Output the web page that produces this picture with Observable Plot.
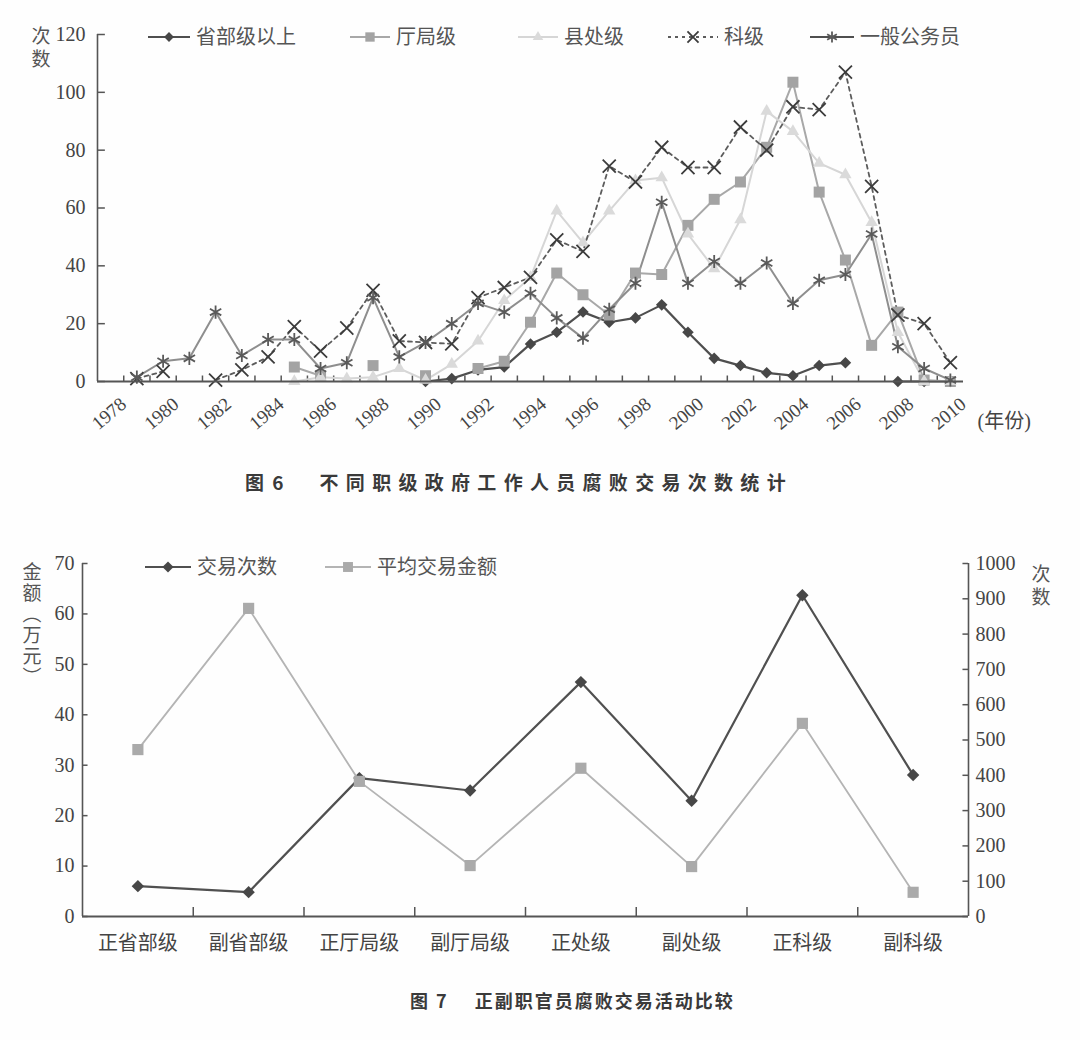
<!DOCTYPE html>
<html>
<head>
<meta charset="utf-8">
<script src="https://cdn.jsdelivr.net/npm/d3@7"></script>
<script src="https://cdn.jsdelivr.net/npm/@observablehq/plot@0.6"></script>
<style>
  body { margin: 0; background: #ffffff; }
  #page { position: relative; width: 1080px; height: 1040px; background: #fefefe; overflow: hidden;
          font-family: "Liberation Serif", "Noto Sans CJK SC", serif; color: #444; }
  #page svg { position: absolute; left: 0; overflow: visible; }
  .cap { position: absolute; white-space: nowrap; font-family: "Noto Sans CJK SC", sans-serif; font-weight: bold; color: #3a3a3a; }
</style>
</head>
<body>
<div id="page"></div>
<script>
// ---------- Figure 6 data ----------
const years = [1978,1979,1980,1981,1982,1983,1984,1985,1986,1987,1988,1989,1990,1991,1992,1993,1994,1995,1996,1997,1998,1999,2000,2001,2002,2003,2004,2005,2006,2007,2008,2009,2010];
const yearLabels = [1978,1980,1982,1984,1986,1988,1990,1992,1994,1996,1998,2000,2002,2004,2006,2008,2010];
const countTicks6 = [0,20,40,60,80,100,120];
const seriesNames6 = ["省部级以上","厅局级","县处级","科级","一般公务员"];
const provincial = [null,null,null,null,null,null,null,null,null,null,null,null,0,1,4,5,13,17,24,20.5,22,26.5,17,8,5.5,3,2,5.5,6.5,null,0,0,0];
const bureau     = [null,null,null,null,null,null,null,5,2,null,5.5,null,2,null,4.5,7,20.5,37.5,30,23,37.5,37,54,63,69,81,103.5,65.5,42,12.5,24,0.5,0];
const county     = [null,null,null,null,null,null,null,0,1.5,1,1.5,4.5,0.5,6,14,28,36,59,48,59,69.5,70.5,51,39,56,93.5,86.5,75.5,71.5,55,17,0,0];
const section    = [null,1,3.5,null,0.5,4,8.5,19,10.5,18.5,31.5,14,13.5,13,29,32.5,36,49,45,74.5,69,81,74,74,88,80,95,94,107,67.5,23,20,6.5];
const general    = [null,1.5,7,8,24,9,14.5,14.5,4.5,6.5,29,8.5,13.5,20,27,24,30.5,22,15,25,34,62,34,41.5,34,41,27,35,37,51,12,4.5,0.5];

// ---------- Figure 7 data ----------
const ranks = ["正省部级","副省部级","正厅局级","副厅局级","正处级","副处级","正科级","副科级"];
const dealCounts = [86, 69, 392, 357, 664, 328, 910, 401];
const avgAmounts = [33.1, 61.1, 26.8, 10.1, 29.4, 9.9, 38.3, 4.8];
const amountTicks = [0,10,20,30,40,50,60,70];
const countTicks7 = [0,100,200,300,400,500,600,700,800,900,1000];
const seriesNames7 = ["交易次数","平均交易金额"];

const page = document.getElementById("page");
const NUM = "Liberation Serif";
const CJK = "Noto Sans CJK SC";

// styling per series (figure 6)
const styles6 = [
  {values: provincial, line: "#4f4f4f", symbol: "diamond2", r: 5.2, fill: "#474747", stroke: "none", width: 2.2, dash: null, legendLine: "#4f4f4f"},
  {values: bureau,     line: "#a8a8a8", symbol: "square",   r: 6.2, fill: "#a3a3a3", stroke: "none", width: 2, dash: null, legendLine: "#a8a8a8"},
  {values: county,     line: "#d6d6d6", symbol: "triangle", r: 4.6, fill: "#dadada", stroke: "none", width: 2, dash: null, legendLine: "#d6d6d6"},
  {values: section,    line: "#5c5c5c", symbol: "times",    r: 6,   fill: "none", stroke: "#3c3c3c", width: 1.8, dash: "4,4", legendLine: "#5c5c5c"},
  {values: general,    line: "#8e8e8e", symbol: "asterisk", r: 6.2, fill: "none", stroke: "#5a5a5a", width: 2, dash: null, legendLine: "#4f4f4f"}
];

const rows6 = styles6.map((s, k) => years.map((yr, i) => ({series: seriesNames6[k], year: yr, value: s.values[i]})));
const boundaries6 = years.slice(1).map(y => y - 0.5);
const x0 = years[0] - 0.5, x1 = years[years.length - 1] + 0.5;

const seriesMarks6 = [];
styles6.forEach((s, k) => {
  seriesMarks6.push(Plot.line(rows6[k], {x: "year", y: "value", stroke: s.line, strokeWidth: s.width, strokeDasharray: s.dash}));
});
styles6.forEach((s, k) => {
  seriesMarks6.push(Plot.dot(rows6[k].filter(d => d.value != null), {x: "year", y: "value", symbol: s.symbol, r: s.r, fill: s.fill, stroke: s.stroke, strokeWidth: 1.8}));
});

const fig6 = Plot.plot({
  width: 1080, height: 445,
  marginLeft: 97, marginRight: 117, marginTop: 34, marginBottom: 64,
  x: {domain: [x0, x1], axis: null},
  y: {domain: [0, 120], axis: null},
  style: {background: "transparent", overflow: "visible"},
  marks: [
    Plot.ruleX([x0], {y1: 0, y2: 120, stroke: "#555", strokeWidth: 1.6}),
    Plot.ruleY(countTicks6, {x1: x0, x2: x0 + 0.3, stroke: "#555", strokeWidth: 1.5}),
    Plot.text(countTicks6, {x: x0, y: d => d, text: d => String(d), dx: -12, textAnchor: "end", fontSize: 20, fontFamily: NUM, fill: "#444"}),
    Plot.ruleX(boundaries6, {y1: 0, y2: 1.9, stroke: "#555", strokeWidth: 1.5}),
    ...seriesMarks6,
    Plot.ruleY([0], {x1: x0, x2: x1, stroke: "#555", strokeWidth: 1.8}),
    Plot.text(yearLabels, {x: d => d, y: 0, text: d => String(d), rotate: -40, textAnchor: "end", dx: 13, dy: 20, fontSize: 19, fontFamily: NUM, fill: "#444"}),
    Plot.text(["(年份)"], {x: x1, y: 0, text: d => d, textAnchor: "start", dx: 14, dy: 40, fontSize: 20, fontFamily: `${NUM}, ${CJK}`, fill: "#444"})
  ]
});
fig6.style.top = "0px";
page.appendChild(fig6);

function symbolPath(name, r) {
  const map = {diamond2: d3.symbolDiamond2, square: d3.symbolSquare, triangle: d3.symbolTriangle, times: d3.symbolTimes, asterisk: d3.symbolAsterisk};
  return d3.symbol(map[name], r * r * Math.PI)();
}
function addLegend(svg, items) {
  const s = d3.select(svg);
  items.forEach(it => {
    const g = s.append("g");
    g.append("line").attr("x1", it.x).attr("x2", it.x + it.len).attr("y1", it.y).attr("y2", it.y)
      .attr("stroke", it.line).attr("stroke-width", it.width).attr("stroke-dasharray", it.dash);
    g.append("path").attr("d", symbolPath(it.symbol, it.r)).attr("transform", `translate(${it.x + it.len / 2},${it.y})`)
      .attr("fill", it.fill).attr("stroke", it.stroke).attr("stroke-width", 1.8);
    g.append("text").attr("x", it.x + it.len + 6).attr("y", it.y).attr("dy", "0.36em")
      .attr("text-anchor", "start")
      .attr("font-family", CJK).attr("font-size", 20).attr("fill", "#555").text(it.name);
  });
}
// vertical (top-to-bottom) axis title as a single text element
function addVerticalTitle(svg, x, yTop, text, spacing) {
  d3.select(svg).append("text")
    .attr("x", x).attr("y", yTop)
    .attr("text-anchor", "start")
    .attr("font-family", CJK).attr("font-size", 19).attr("fill", "#555")
    .style("writing-mode", "vertical-rl")
    .style("letter-spacing", spacing + "px")
    .text(text);
}

const legendX6 = [148, 350, 518, 668, 810];
const legendLen6 = [42, 40, 40, 50, 44];
addLegend(fig6, styles6.map((s, k) => ({
  x: legendX6[k], len: legendLen6[k], y: 37, name: seriesNames6[k], line: s.legendLine,
  width: s.width, dash: s.dash ? "3,4" : null, symbol: s.symbol, r: s.r * 0.85, fill: s.fill, stroke: s.stroke
})));
addVerticalTitle(fig6, 41, 26, "次数", 4);

// ---------- Figure 7 ----------
const c2a = 70 / 1000;  // right axis (次数) to left axis (万元) conversion
const idx = ranks.map((_, i) => i);
const rowsCount = ranks.map((r, i) => ({i, v: dealCounts[i] * c2a}));
const rowsAmt = ranks.map((r, i) => ({i, v: avgAmounts[i]}));
const bx0 = -0.5, bx1 = ranks.length - 0.5;
const boundaries7 = idx.slice(1).map(i => i - 0.5);

const fig7 = Plot.plot({
  width: 1080, height: 420,
  marginLeft: 82, marginRight: 112, marginTop: 23, marginBottom: 44,
  x: {domain: [bx0, bx1], axis: null},
  y: {domain: [0, 70], axis: null},
  style: {background: "transparent", overflow: "visible"},
  marks: [
    Plot.ruleX([bx0, bx1], {y1: 0, y2: 70, stroke: "#555", strokeWidth: 1.6}),
    Plot.ruleY(amountTicks, {x1: bx0, x2: bx0 + 0.05, stroke: "#555", strokeWidth: 1.5}),
    Plot.text(amountTicks, {x: bx0, y: d => d, text: d => String(d), dx: -8, textAnchor: "end", fontSize: 20, fontFamily: NUM, fill: "#444"}),
    Plot.ruleY(countTicks7, {y: d => d * c2a, x1: bx1 - 0.05, x2: bx1, stroke: "#555", strokeWidth: 1.5}),
    Plot.text(countTicks7, {x: bx1, y: d => d * c2a, text: d => String(d), dx: 7, textAnchor: "start", fontSize: 20, fontFamily: NUM, fill: "#444"}),
    Plot.ruleX(boundaries7, {y1: 0, y2: 1.8, stroke: "#555", strokeWidth: 1.5}),
    Plot.line(rowsCount, {x: "i", y: "v", stroke: "#505050", strokeWidth: 2.2}),
    Plot.dot(rowsCount, {x: "i", y: "v", symbol: "diamond2", r: 5.6, fill: "#474747"}),
    Plot.line(rowsAmt, {x: "i", y: "v", stroke: "#b4b4b4", strokeWidth: 1.8}),
    Plot.dot(rowsAmt, {x: "i", y: "v", symbol: "square", r: 6.3, fill: "#aaaaaa"}),
    Plot.ruleY([0], {x1: bx0, x2: bx1, stroke: "#555", strokeWidth: 1.8}),
    Plot.text(ranks, {x: (d, i) => i, y: 0, text: d => d, dy: 27, fontSize: 20, fontFamily: CJK, fill: "#444"})
  ]
});
fig7.style.top = "540px";
page.appendChild(fig7);

addLegend(fig7, [
  {x: 145, len: 46, y: 27, name: seriesNames7[0], line: "#505050", width: 2.2, dash: null, symbol: "diamond2", r: 5, fill: "#474747", stroke: "none"},
  {x: 325, len: 46, y: 27, name: seriesNames7[1], line: "#b4b4b4", width: 1.8, dash: null, symbol: "square", r: 5.6, fill: "#aaaaaa", stroke: "none"}
]);
addVerticalTitle(fig7, 32, 22, "金额（万元）", 2);
addVerticalTitle(fig7, 1041, 24, "次数", 4);

// captions
const cap6 = document.createElement("div");
cap6.className = "cap"; cap6.style.left = "245px"; cap6.style.top = "468px"; cap6.style.fontSize = "19px";
cap6.innerHTML = '<span style="letter-spacing:2px">图 6</span><span style="margin-left:34px;letter-spacing:7.3px">不同职级政府工作人员腐败交易次数统计</span>';
page.appendChild(cap6);
const cap7 = document.createElement("div");
cap7.className = "cap"; cap7.style.left = "410px"; cap7.style.top = "987px"; cap7.style.fontSize = "18px";
cap7.innerHTML = '<span style="letter-spacing:2px">图 7</span><span style="margin-left:26px;letter-spacing:2px">正副职官员腐败交易活动比较</span>';
page.appendChild(cap7);
</script>
</body>
</html>
